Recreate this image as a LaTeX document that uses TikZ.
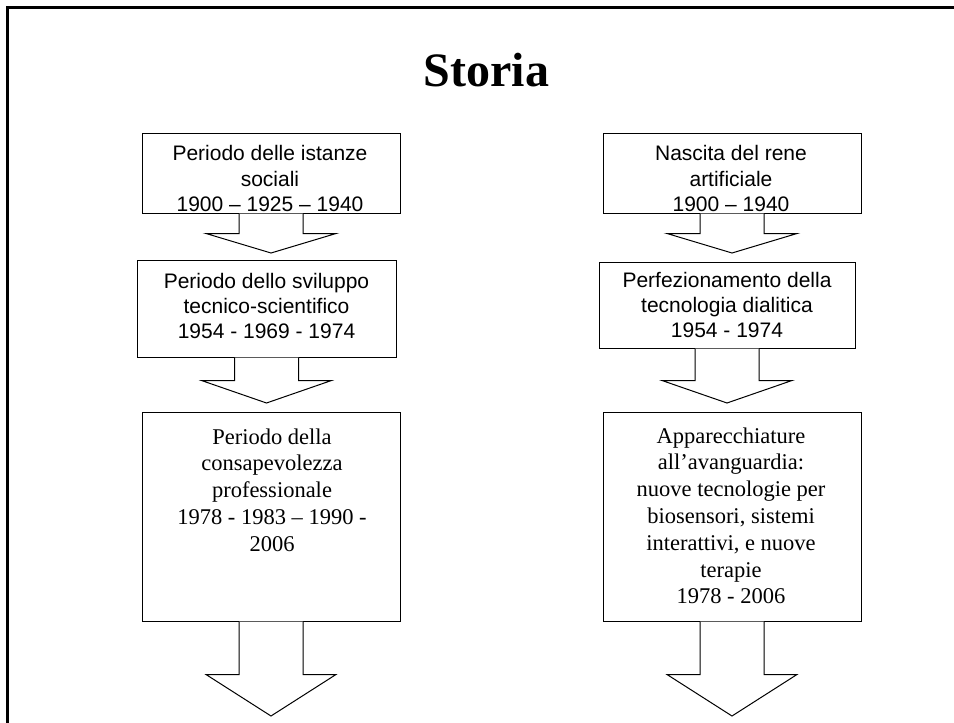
\documentclass[tikz,border=0pt]{standalone}
\usepackage{fontspec}
\setmainfont{Liberation Serif}
\newfontfamily\sansf{Liberation Sans}
\usetikzlibrary{calc}
\tikzset{
  box/.style={draw=black, line width=1pt, fill=white, inner sep=0pt},
  blk/.style={draw=black, line width=1pt, fill=white, line join=miter},
  sanstxt/.style={anchor=base, inner sep=0pt, font=\sansf\fontsize{21}{25.3}\selectfont},
  sertxt/.style={anchor=base, inner sep=0pt, font=\fontsize{22.5}{26.8}\selectfont},
  frame/.style={draw=black, line width=2.5pt}
}
\newcommand\blkarrow[3]{%
  \draw[blk] ($(#1.south)+(-32,0)$) -- ++(0,#2) -- ++(-33,0) -- (#3)
    -- ($(#1.south)+(65,#2)$) -- ++(-33,0) -- ($(#1.south)+(32,0)$);}
\begin{document}
\begin{tikzpicture}[x=1pt,y=-1pt]
\useasboundingbox (0,0) rectangle (954,723);
% slide frame (top and left edges)
\draw[frame] (7.5,723) -- (7.5,7.5) -- (954,7.5);
% title
\node[anchor=base, inner sep=0pt, font=\bfseries\fontsize{48}{52}\selectfont] (title) at (486.5,86) {Storia};
% boxes
\node[box, minimum width=258pt, minimum height=80pt] (b1L) at (271,173) {};
\node[box, minimum width=259pt, minimum height=97pt] (b2L) at (266.5,308.5) {};
\node[box, minimum width=258pt, minimum height=209pt] (b3L) at (271,516.5) {};
\node[box, minimum width=258pt, minimum height=80pt] (b1R) at (732,173) {};
\node[box, minimum width=256pt, minimum height=86pt] (b2R) at (727,305) {};
\node[box, minimum width=258pt, minimum height=209pt] (b3R) at (732,516.5) {};
% arrow tips
\coordinate (a1L) at (271,253);
\coordinate (a2L) at (266.5,403);
\coordinate (a3L) at (271,716);
\coordinate (a1R) at (732,253);
\coordinate (a2R) at (727,403);
\coordinate (a3R) at (732,716);
% block arrows
\blkarrow{b1L}{20}{a1L}
\blkarrow{b2L}{23}{a2L}
\blkarrow{b3L}{53}{a3L}
\blkarrow{b1R}{20}{a1R}
\blkarrow{b2R}{32}{a2R}
\blkarrow{b3R}{53}{a3R}
% texts
\node[sanstxt] (t1L) at (270,160.7) {\begin{tabular}[t]{@{}c@{}}Periodo delle istanze\\ sociali\\ 1900 – 1925 – 1940\end{tabular}};
\node[sanstxt] (t2L) at (266.5,288.3) {\begin{tabular}[t]{@{}c@{}}Periodo dello sviluppo\\ tecnico-scientifico\\ 1954 - 1969 - 1974\end{tabular}};
\node[sanstxt] (t1R) at (731,160.7) {\begin{tabular}[t]{@{}c@{}}Nascita del rene\\ artificiale\\ 1900 – 1940\end{tabular}};
\node[sanstxt] (t2R) at (727,287) {\begin{tabular}[t]{@{}c@{}}Perfezionamento della\\ tecnologia dialitica\\ 1954 - 1974\end{tabular}};
\node[sertxt] (t3L) at (272,444) {\begin{tabular}[t]{@{}c@{}}Periodo della\\ consapevolezza\\ professionale\\ 1978 - 1983 – 1990 -\\ 2006\end{tabular}};
\node[sertxt] (t3R) at (731,443) {\begin{tabular}[t]{@{}c@{}}Apparecchiature\\ all’avanguardia:\\ nuove tecnologie per\\ biosensori, sistemi\\ interattivi, e nuove\\ terapie\\ 1978 - 2006\end{tabular}};
\end{tikzpicture}
\end{document}
